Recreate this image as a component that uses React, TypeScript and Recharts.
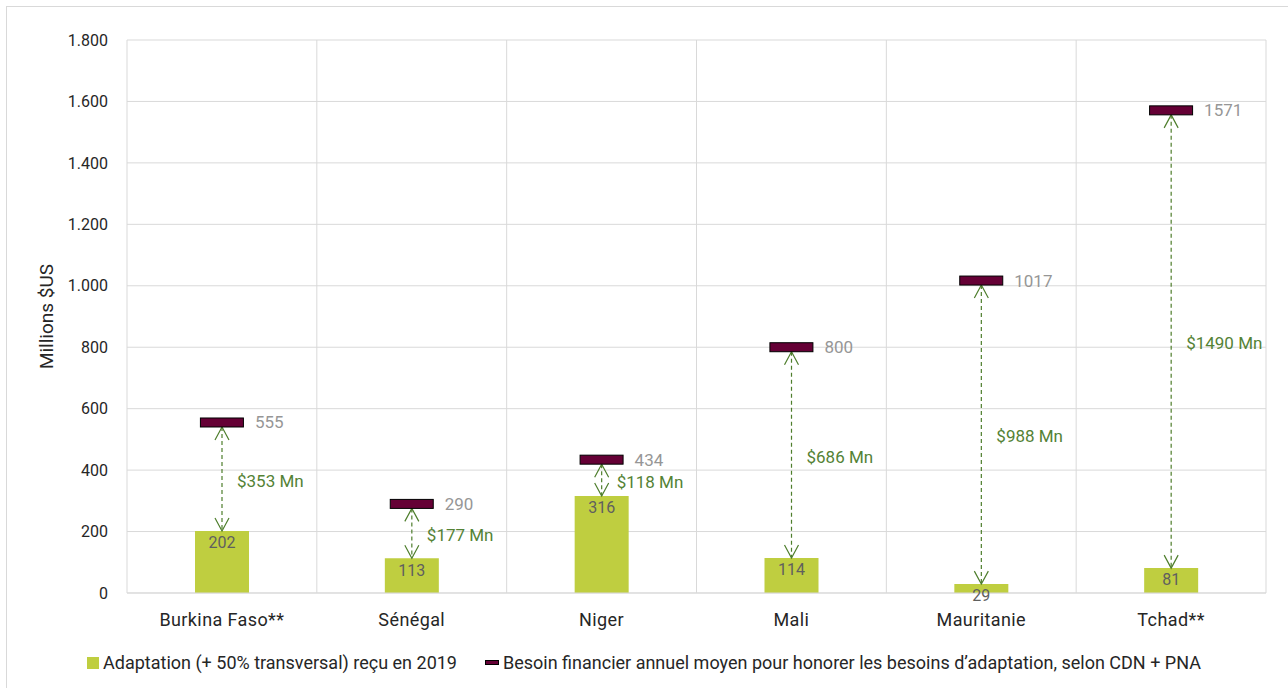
import React from 'react';
import { ComposedChart, Bar, Line, XAxis, YAxis, CartesianGrid, LabelList } from 'recharts';

const countries = ['Burkina Faso**', 'Sénégal', 'Niger', 'Mali', 'Mauritanie', 'Tchad**'];
const received = [202, 113, 316, 114, 29, 81]; // adaptation reçu en 2019
const need = [555, 290, 434, 800, 1017, 1571]; // besoin annuel moyen
const gap = [353, 177, 118, 686, 988, 1490]; // écart affiché en $ Mn
const yTicks = [0, 200, 400, 600, 800, 1000, 1200, 1400, 1600, 1800];

const data = countries.map((country, i) => ({
    country,
    received: received[i],
    need: need[i],
    gap: gap[i],
    range: [received[i], need[i]],
}));

const FONT = 'Roboto, "Noto Sans", sans-serif';
const GREEN = '#BFCE40';
const MAROON = '#650035';
const ARROW = '#4E7E2C';

const margin = { top: 40, right: 22, bottom: 55, left: 67 };
const yAxisWidth = 60;
const chartW = 1288;
const chartH = 688;
const plotLeft = margin.left + yAxisWidth;
const plotW = chartW - margin.right - plotLeft;

const formatThousands = (v: number) => v.toString().replace(/\B(?=(\d{3})+(?!\d))/g, '.');

/* dashed double arrow between the bar top and the need marker, plus the gap label */
const GapArrow = (props: any) => {
    const { x, y, width, height, payload } = props;
    if (x == null || height == null) return null;
    const cx = x + width / 2;
    const top = y + 4.5;
    const bottom = y + height;
    const mid = (y + bottom) / 2 + 4;
    return (
        <g>
            <line x1={cx} y1={top} x2={cx} y2={bottom} stroke={ARROW} strokeWidth={1.2} strokeDasharray="4 3" />
            <polyline points={`${cx - 7},${top + 13} ${cx},${top} ${cx + 7},${top + 13}`} fill="none" stroke={ARROW} strokeWidth={1.2} />
            <polyline points={`${cx - 7},${bottom - 13} ${cx},${bottom} ${cx + 7},${bottom - 13}`} fill="none" stroke={ARROW} strokeWidth={1.2} />
            <text x={cx + 15} y={mid} dominantBaseline="central" fill="#548235" fontSize={17} fontFamily={FONT}>
                {`$${payload.gap} Mn`}
            </text>
        </g>
    );
};

const NeedMarker = (props: any) => {
    const { cx, cy, payload } = props;
    if (cx == null || cy == null) return null;
    return (
        <g>
            <rect x={cx - 21.5} y={cy - 4.5} width={43} height={9} fill={MAROON} stroke="#000" strokeWidth={1} />
            <text x={cx + 33} y={cy} dominantBaseline="central" fill="#969696" fontSize={17} fontFamily={FONT}>
                {payload.need}
            </text>
        </g>
    );
};

const Legend = () => (
    <div
        style={{
            position: 'absolute',
            top: 652,
            left: 0,
            width: chartW,
            display: 'flex',
            justifyContent: 'center',
            alignItems: 'center',
            gap: 28,
            fontFamily: FONT,
            fontSize: 18,
            color: '#262626',
        }}
    >
        <div style={{ display: 'flex', alignItems: 'center' }}>
            <span style={{ width: 12, height: 12, background: GREEN, marginRight: 4 }} />
            Adaptation (+ 50% transversal) reçu en 2019
        </div>
        <div style={{ display: 'flex', alignItems: 'center' }}>
            <span style={{ width: 12, height: 3, background: MAROON, border: '0.5px solid #000', marginRight: 4 }} />
            Besoin financier annuel moyen pour honorer les besoins d’adaptation, selon CDN + PNA
        </div>
    </div>
);

const App = () => {
    const vLines = countries.map((_, i) => plotLeft + (i * plotW) / countries.length).concat(plotLeft + plotW);

    return (
        <div style={{ position: 'absolute', left: 0, top: 0, width: chartW, height: chartH, background: '#fff' }}>
            <div
                style={{
                    position: 'absolute',
                    left: 6,
                    top: 6,
                    width: chartW,
                    height: chartH,
                    borderLeft: '1px solid #d9d9d9',
                    borderTop: '1px solid #d9d9d9',
                }}
            />
            <ComposedChart width={chartW} height={chartH} data={data} margin={margin}>
                <CartesianGrid stroke="#d9d9d9" verticalPoints={vLines} />
                <XAxis
                    xAxisId="main"
                    dataKey="country"
                    height={40}
                    tickLine={false}
                    tickSize={0}
                    tickMargin={20}
                    axisLine={{ stroke: '#d9d9d9' }}
                    tick={{ fill: '#262626', fontSize: 18, fontFamily: FONT, letterSpacing: 0.4 }}
                />
                <XAxis xAxisId="overlay" dataKey="country" hide />
                <YAxis
                    domain={[0, 1800]}
                    ticks={yTicks}
                    width={yAxisWidth}
                    tickLine={false}
                    axisLine={false}
                    tickSize={0}
                    tickMargin={19}
                    tickFormatter={formatThousands}
                    tick={{ fill: '#262626', fontSize: 16, fontFamily: FONT }}
                    label={{
                        content: ({ viewBox }: any) => (
                            <text
                                x={viewBox.x - 21}
                                y={viewBox.y + viewBox.height / 2}
                                transform={`rotate(-90, ${viewBox.x - 21}, ${viewBox.y + viewBox.height / 2})`}
                                textAnchor="middle"
                                dominantBaseline="central"
                                fill="#262626"
                                fontSize={19}
                                fontFamily={FONT}
                            >
                                Millions $US
                            </text>
                        ),
                    }}
                />
                <Bar xAxisId="main" dataKey="received" fill={GREEN} barSize={54} isAnimationActive={false}>
                    <LabelList dataKey="received" position="insideTop" offset={6} fill="#5f5f5f" fontSize={16} fontFamily={FONT} />
                </Bar>
                <Bar xAxisId="overlay" dataKey="range" barSize={54} shape={<GapArrow />} isAnimationActive={false} />
                <Line
                    xAxisId="main"
                    dataKey="need"
                    stroke="none"
                    dot={<NeedMarker />}
                    activeDot={false}
                    isAnimationActive={false}
                />
            </ComposedChart>
            <Legend />
        </div>
    );
};

export default App;
